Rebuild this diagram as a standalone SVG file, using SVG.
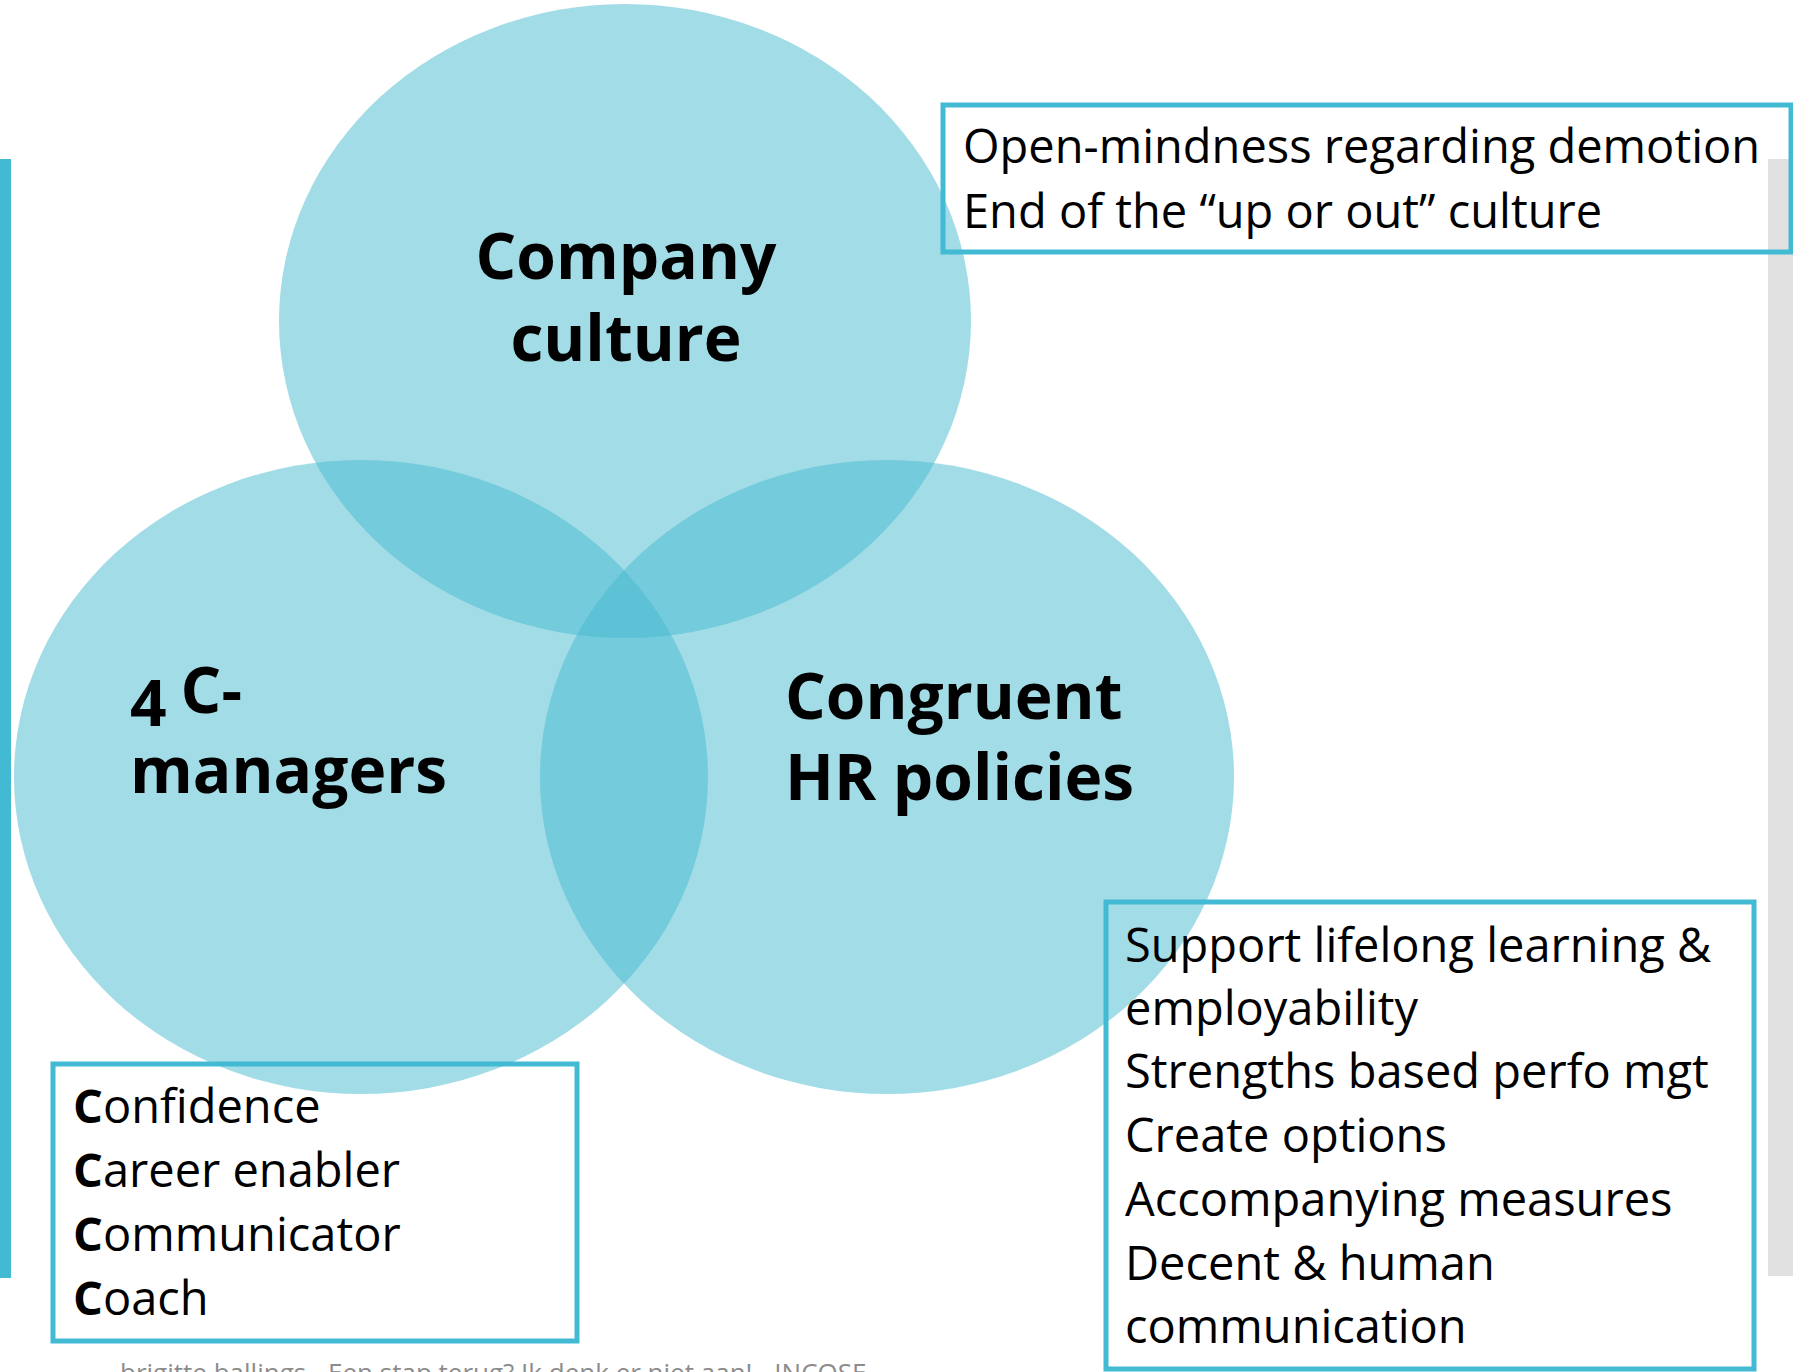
<svg xmlns="http://www.w3.org/2000/svg" width="1793" height="1372" viewBox="0 0 1793 1372">
  <style>
    .venn { fill: #45B9CF; fill-opacity: 0.5; }
    .box { fill: none; stroke: #43BAD3; stroke-width: 5; }
    .title { font-family: "Open Sans", "Liberation Sans", sans-serif; font-weight: bold; font-size: 64px; fill: #000; }
    .item { font-family: "Open Sans", "Liberation Sans", sans-serif; font-size: 47px; fill: #000; }
    .footer { font-family: "Open Sans", "Liberation Sans", sans-serif; font-size: 26px; fill: #8c8c8c; }
  </style>
  <rect width="1793" height="1372" fill="#ffffff"/>
  <!-- decorative bars -->
  <rect x="0" y="159" width="11" height="1119" fill="#43BAD3"/>
  <rect x="1768" y="159" width="25" height="1117" fill="#E1E1E1"/>

  <g id="company-culture">
    <ellipse class="venn" cx="625" cy="321" rx="346" ry="317"/>
    <text class="title" x="626" y="279" text-anchor="middle">Company</text>
    <text class="title" x="626" y="361" text-anchor="middle">culture</text>
  </g>
  <g id="managers">
    <ellipse class="venn" cx="361" cy="777" rx="347" ry="317"/>
    <text class="title" x="130" y="713"><tspan dy="13">4</tspan><tspan dy="-13" dx="14">C-</tspan></text>
    <text class="title" x="130" y="793">managers</text>
  </g>
  <g id="hr-policies">
    <ellipse class="venn" cx="887" cy="777" rx="347" ry="317"/>
    <text class="title" x="785" y="719">Congruent</text>
    <text class="title" x="785" y="800">HR policies</text>
  </g>

  <g id="culture-box">
    <rect class="box" x="943" y="105" width="848" height="147"/>
    <text class="item" x="963" y="163">Open-mindness regarding demotion</text>
    <text class="item" x="963" y="228">End of the “up or out” culture</text>
  </g>

  <g id="managers-box">
    <rect class="box" x="53" y="1064" width="524" height="277"/>
    <text class="item" x="73" y="1123"><tspan font-weight="bold">C</tspan>onfidence</text>
    <text class="item" x="73" y="1187"><tspan font-weight="bold">C</tspan>areer enabler</text>
    <text class="item" x="73" y="1251"><tspan font-weight="bold">C</tspan>ommunicator</text>
    <text class="item" x="73" y="1315"><tspan font-weight="bold">C</tspan>oach</text>
  </g>

  <g id="hr-box">
    <rect class="box" x="1106" y="902" width="648" height="467"/>
    <text class="item" x="1125" y="962">Support lifelong learning &amp;</text>
    <text class="item" x="1125" y="1025">employability</text>
    <text class="item" x="1125" y="1088">Strengths based perfo mgt</text>
    <text class="item" x="1125" y="1152">Create options</text>
    <text class="item" x="1125" y="1216">Accompanying measures</text>
    <text class="item" x="1125" y="1280">Decent &amp; human</text>
    <text class="item" x="1125" y="1343">communication</text>
  </g>

  <g id="footer">
    <text class="footer" x="120" y="1382">brigitte ballings - Een stap terug? Ik denk er niet aan! - INCOSE</text>
  </g>
</svg>
